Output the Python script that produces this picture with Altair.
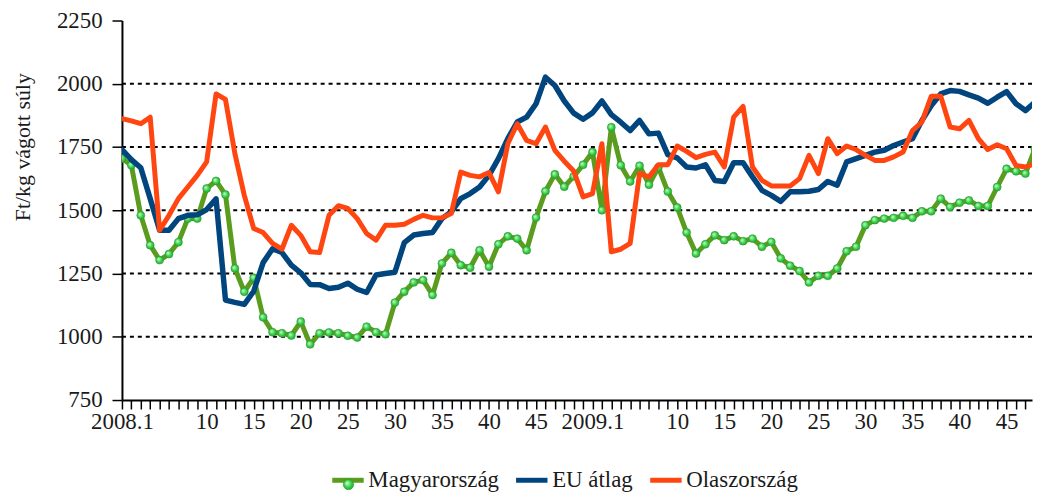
import altair as alt
import pandas as pd

FONT = "Liberation Serif, DejaVu Serif, serif"

# week index 0 = 2008.1 ; 2009.1 sits at index 50
idx = list(range(98))

magyar = [1705, 1678, 1480, 1362, 1303, 1327, 1374, 1467, 1467, 1586,
          1616, 1562, 1270, 1178, 1233, 1077, 1018, 1014, 1005, 1060,
          970, 1014, 1017, 1014, 1004, 997, 1040, 1018, 1010, 1135,
          1178, 1215, 1224, 1165, 1290, 1332, 1283, 1273, 1342, 1277,
          1366, 1397, 1388, 1342, 1471, 1575, 1642, 1593, 1634, 1680,
          1730, 1500, 1828, 1678, 1614, 1676, 1601, 1670, 1574, 1511,
          1412, 1329, 1366, 1401, 1382, 1397, 1378, 1388, 1356, 1375,
          1310, 1281, 1260, 1215, 1241, 1241, 1270, 1338, 1356, 1441,
          1461, 1467, 1470, 1478, 1470, 1496, 1496, 1546, 1513, 1530,
          1539, 1517, 1517, 1592, 1664, 1654, 1645, 1743]

eu = [1740, 1700, 1668, 1546, 1421, 1421, 1467, 1480, 1482, 1503,
      1545, 1145, 1136, 1128, 1180, 1293, 1348, 1333, 1283, 1253,
      1207, 1206, 1191, 1196, 1212, 1188, 1175, 1244, 1250, 1255,
      1372, 1402, 1408, 1412, 1467, 1494, 1546, 1566, 1592, 1638,
      1704, 1783, 1849, 1868, 1921, 2026, 1993, 1932, 1884, 1860,
      1885, 1932, 1878, 1848, 1815, 1855, 1802, 1805, 1720, 1707,
      1671, 1667, 1680, 1618, 1614, 1688, 1688, 1632, 1579, 1559,
      1535, 1573, 1573, 1575, 1582, 1614, 1599, 1691, 1704, 1717,
      1730, 1737, 1756, 1770, 1783, 1855, 1914, 1960, 1973, 1970,
      1956, 1943, 1923, 1947, 1969, 1921, 1894, 1927]

olasz = [1862, 1853, 1842, 1868, 1421, 1480, 1546, 1592, 1638, 1691,
         1960, 1938, 1724, 1559, 1428, 1412, 1369, 1346, 1441, 1401,
         1336, 1333, 1480, 1518, 1507, 1467, 1408, 1382, 1441, 1441,
         1445, 1464, 1480, 1470, 1470, 1487, 1651, 1638, 1632, 1649,
         1573, 1763, 1842, 1776, 1763, 1829, 1737, 1694, 1655, 1553,
         1566, 1763, 1336, 1346, 1369, 1645, 1632, 1680, 1680, 1754,
         1733, 1708, 1721, 1730, 1671, 1868, 1911, 1671, 1618, 1596,
         1596, 1596, 1625, 1717, 1645, 1783, 1724, 1754, 1740, 1717,
         1697, 1697, 1711, 1730, 1815, 1849, 1951, 1951, 1829, 1822,
         1855, 1783, 1740, 1759, 1743, 1677, 1671, 1684]

tick_pos = [0, 9, 14, 19, 24, 29, 34, 39, 44, 50, 59, 64, 69, 74, 79, 84, 89, 94]
tick_text = ["2008.1", "10", "15", "20", "25", "30", "35", "40", "45",
             "2009.1", "10", "15", "20", "25", "30", "35", "40", "45"]

y_ticks = [750, 1000, 1250, 1500, 1750, 2000, 2250]
grid_vals = [1000, 1250, 1500, 1750, 2000]

series_names = ["Magyarország", "EU átlag", "Olaszország"]
series_colors = ["#5A9C1E", "#00457E", "#FF4611"]

rows = []
for name, vals in zip(series_names, [magyar, eu, olasz]):
    for i, v in zip(idx, vals):
        rows.append({"idx": i, "value": v, "series": name})
df = pd.DataFrame(rows)
grid_df = pd.DataFrame({"value": grid_vals})

pos_js = "[" + ",".join(str(p) for p in tick_pos) + "]"
txt_js = "[" + ",".join("'" + t + "'" for t in tick_text) + "]"
label_expr = f"indexof({pos_js}, datum.value) >= 0 ? {txt_js}[indexof({pos_js}, datum.value)] : ''"

x_enc = alt.X(
    "idx:Q",
    scale=alt.Scale(domain=[0, 96.7], nice=False, zero=False),
    axis=alt.Axis(
        values=idx[:97], labelExpr=label_expr, title=None, grid=False,
        domainColor="black", domainWidth=2, tickColor="black", tickWidth=1.5,
        tickSize=9, labelFont=FONT, labelFontSize=23, labelColor="#1a1a1a",
        labelPadding=2, labelOverlap=False, labelFlush=False, labelBound=False,
    ),
)

y_enc = alt.Y(
    "value:Q",
    scale=alt.Scale(domain=[750, 2250], nice=False, zero=False),
    axis=alt.Axis(
        values=y_ticks, format="d", title="Ft/kg vágott súly", grid=False,
        domainColor="black", domainWidth=2, tickColor="black", tickWidth=1.5,
        tickSize=10, labelFont=FONT, labelFontSize=23, labelColor="#1a1a1a",
        labelPadding=10, titleFont=FONT, titleFontSize=22, titleFontWeight="normal",
        titleColor="#1a1a1a", titleX=-100, titleY=127, titleAngle=270,
        titleAlign="center", titleBaseline="middle",
    ),
)

color_enc = alt.Color(
    "series:N",
    scale=alt.Scale(domain=series_names, range=series_colors),
    legend=alt.Legend(
        orient="none", legendX=209, legendY=444, direction="horizontal",
        title=None, symbolType="stroke", symbolStrokeWidth=5, symbolSize=1000,
        labelFont=FONT, labelFontSize=23, labelColor="#1a1a1a", labelOffset=2,
        columnPadding=6, padding=0,
    ),
)

base = alt.Chart(df)

grid = alt.Chart(grid_df).mark_rule(color="black", strokeWidth=2, strokeDash=[4, 4]).encode(y=y_enc)

def line_layer(name, width):
    return base.transform_filter(alt.datum.series == name).mark_line(
        strokeWidth=width, strokeJoin="round", strokeCap="round", clip=True
    ).encode(x=x_enc, y=y_enc, color=color_enc)

ball = alt.RadialGradient(
    gradient="radial",
    stops=[alt.GradientStop(color="#d8ffd8", offset=0),
           alt.GradientStop(color="#3ad24a", offset=0.55),
           alt.GradientStop(color="#1f9a2c", offset=1)],
    x1=0.35, y1=0.35, r1=0, x2=0.5, y2=0.5, r2=0.6,
)

points = base.transform_filter(alt.datum.series == "Magyarország").transform_calculate(
    mk="'Magyarország'"
).mark_point(filled=True, size=64, fill=ball, strokeWidth=0.6, opacity=1, clip=True).encode(
    x=x_enc, y=y_enc,
    stroke=alt.Stroke(
        "mk:N", scale=alt.Scale(range=["#2a9c35"]),
        legend=alt.Legend(
            orient="none", legendX=222, legendY=461, title=None, labelExpr="''",
            symbolType="circle", symbolSize=110, symbolFillColor="#36c845",
            symbolStrokeColor="#2a9c35", symbolStrokeWidth=0.6, padding=0,
            labelFontSize=1,
        ),
    ),
)

chart = alt.layer(
    grid,
    line_layer("Magyarország", 5),
    points,
    line_layer("EU átlag", 5.5),
    line_layer("Olaszország", 5),
).properties(
    width=916, height=382,
    padding={"left": 114.7, "top": 11, "right": 2, "bottom": 95},
    autosize=alt.AutoSizeParams(type="none"),
    background="white",
).configure(font=FONT).configure_view(stroke=None)

chart.save("out.html", embed_options={"renderer": "svg", "actions": False})
